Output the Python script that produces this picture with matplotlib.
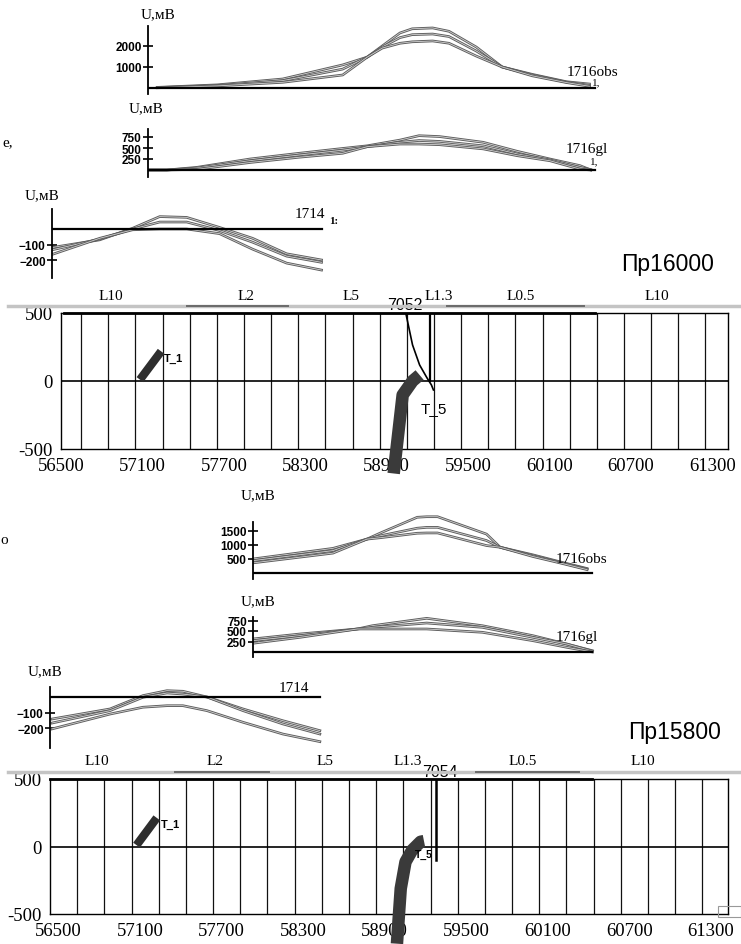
import matplotlib
matplotlib.use('Agg')
import matplotlib.pyplot as plt
import matplotlib.patheffects as pe
from matplotlib.lines import Line2D
from matplotlib.patches import Rectangle
import numpy as np

plt.rcParams['font.family'] = ['Liberation Serif', 'DejaVu Serif']
SANS = ['Liberation Sans', 'DejaVu Sans']

W, H = 741, 945

# ---------------- данные: x - пикет, м ; U - мВ ----------------
# Пр16000, 1716obs
obs1_x = [57230, 57670, 58150, 58590, 58770, 58880, 59010, 59100, 59250, 59370, 59570, 59760, 59980, 60230, 60400]
obs1_a = [30, 150, 430, 1100, 1470, 2000, 2620, 2820, 2860, 2700, 1950, 1000, 650, 300, 190]
obs1_b = [20, 120, 350, 900, 1470, 1950, 2400, 2540, 2570, 2450, 1760, 1000, 620, 280, 130]
obs1_c = [10, 100, 270, 620, 1470, 1900, 2130, 2200, 2240, 2130, 1520, 1000, 580, 260, 80]
# Пр16000, 1716gl
gl1_x = [57170, 57300, 57520, 57910, 58270, 58590, 58770, 59010, 59150, 59300, 59620, 59870, 60110, 60330, 60410]
gl1_a = [0, 0, 60, 250, 380, 490, 550, 680, 780, 760, 630, 425, 250, 100, 0]
gl1_b = [0, 0, 45, 210, 340, 450, 530, 630, 670, 650, 550, 365, 230, 60, 10]
gl1_c = [0, 0, 15, 170, 290, 380, 530, 590, 590, 575, 480, 325, 210, 20, 0]
# Пр16000, 1714
p1_x = [56456, 56808, 57050, 57248, 57446, 57687, 57929, 58179, 58435]
p1_a = [-120, -70, 5, 80, 75, 10, -60, -160, -200]
p1_b = [-135, -65, 0, 45, 45, -10, -85, -175, -215]
p1_c = [-165, -60, -5, 0, 0, -30, -130, -220, -265]

# Пр15800, 1716obs
obs2_x = [57930, 58520, 58770, 58870, 59140, 59210, 59290, 59650, 59750, 59990, 60190, 60390]
obs2_a = [500, 880, 1210, 1430, 1990, 2010, 2010, 1390, 920, 650, 400, 160]
obs2_b = [440, 800, 1210, 1330, 1600, 1630, 1630, 1160, 920, 620, 380, 140]
obs2_c = [360, 710, 1210, 1260, 1420, 1430, 1430, 980, 920, 590, 360, 120]
# Пр15800, 1716gl
gl2_x = [57930, 58280, 58700, 58810, 59210, 59620, 59990, 60240, 60430]
gl2_a = [310, 430, 548, 626, 802, 626, 390, 190, 30]
gl2_b = [270, 390, 548, 587, 690, 587, 350, 190, 20]
gl2_c = [207, 350, 548, 548, 548, 469, 270, 112, 0]
# Пр15800, 1714
p2_x = [56453, 56880, 57122, 57299, 57416, 57593, 57858, 58152, 58424]
p2_a = [-142, -77, 9, 41, 37, 0, -77, -153, -217]
p2_b = [-168, -88, -2, 26, 19, 0, -88, -174, -239]
p2_c = [-206, -110, -66, -56, -56, -88, -163, -239, -288]

# разрезы
x_ticks = [56500, 57100, 57700, 58300, 58900, 59500, 60100, 60700, 61300]
z_ticks = [-500, 0, 500]
layers = ['L10', 'L2', 'L5', 'L1.3', 'L0.5', 'L10']
layers1_x = [56865, 57862, 58641, 59282, 59890, 60895]
layers2_x = [56783, 57652, 58462, 59068, 59913, 60800]

t1_1x, t1_1z = [57082, 57238], [10, 218]
t5_1x = [58952, 59018, 59091, 59143]
t5_1z = [-680, -103, 0, 44]
thin1_x = [59041, 59091, 59143, 59198, 59230, 59245]
thin1_z = [500, 265, 118, 22, -29, -66]

t1_2x, t1_2z = [57075, 57224], [10, 212]
t5_2x = [58991, 59019, 59054, 59103, 59165, 59190]
t5_2z = [-720, -311, -114, -27, 35, 40]


def box(l, t, r, b):
    return [l / W, 1 - b / H, (r - l) / W, (b - t) / H]


def m1(px):
    return 56500 + (px - 57.7) * 7.334


def m2(px):
    return 56500 + (px - 58.4) * 7.358


fig = plt.figure(figsize=(W / 100, H / 100), dpi=100)


def ftext(px, py, s, **kw):
    fig.text(px / W, 1 - py / H, s, **kw)


def small_plot(l, t, r, b, zero_py, scale, mfun, x, curves, ticks, top_py, base_px):
    ax = fig.add_axes(box(l, t, r, b))
    ylim = (-(b - zero_py) / scale, (zero_py - t) / scale)
    xlim = (mfun(l), mfun(r))
    for y in curves:
        ax.plot(x, y, color='#d2d2d2', lw=0.6,
                path_effects=[pe.Stroke(linewidth=1.9, foreground='#5c5c5c'), pe.Normal()])
    ax.plot([xlim[0], mfun(base_px)], [0, 0], color='black', lw=1.6)
    ax.set_xlim(xlim)
    ax.set_ylim(ylim)
    for s in ['top', 'right', 'bottom']:
        ax.spines[s].set_visible(False)
    ax.spines['left'].set_bounds(ylim[0], (zero_py - top_py) / scale)
    ax.spines['left'].set_linewidth(1.3)
    ax.set_xticks([])
    ax.set_yticks(ticks)
    ax.tick_params(axis='y', direction='inout', length=7, width=1.2, pad=1, labelsize=8.5)
    for lb in ax.get_yticklabels():
        lb.set_fontfamily(SANS)
        lb.set_fontweight('bold')
    ax.patch.set_alpha(0)
    return ax


def section(l, t, r, b, xlim, vlines, thick_end, lay_x, lay_z, gray_py, dark):
    ax = fig.add_axes(box(l, t, r, b))
    ax.set_xlim(xlim)
    ax.set_ylim(-500, 500)
    for v in vlines:
        ax.axvline(v, color='#111111', lw=0.9)
    ax.axhline(0, color='black', lw=1.2)
    ax.plot([xlim[0], thick_end], [500, 500], color='black', lw=2.0, clip_on=False, zorder=4)
    for s in ax.spines.values():
        s.set_linewidth(1.0)
    ax.set_xticks(x_ticks)
    ax.set_xticklabels([str(v) for v in x_ticks])
    ax.set_yticks(z_ticks)
    ax.set_yticklabels([str(v) for v in z_ticks])
    ax.tick_params(length=0, labelsize=13.5, pad=6)
    ax.tick_params(axis='y', pad=6)
    for name, xx in zip(layers, lay_x):
        ax.text(xx, lay_z, name, ha='center', va='center', fontsize=11, clip_on=False)
    y = 1 - gray_py / H
    fig.add_artist(Line2D([8 / W, 1], [y, y], color='#c4c4c4', lw=2.5))
    for a, c in dark:
        fig.add_artist(Line2D([a / W, c / W], [y, y], color='#6a6a6a', lw=1.4))
    return ax


# ================= Пр16000 =================
small_plot(148, 27, 600, 95, 89, 0.021, m1, obs1_x, [obs1_a, obs1_b, obs1_c], [1000, 2000], 27, 595)
ftext(158, 15, 'U,мВ', fontsize=11, ha='center', va='center')
ftext(592, 72, '1716obs', fontsize=11, ha='center', va='center')
ftext(592, 83, '1,', fontsize=8, ha='left', va='center')

small_plot(148, 128, 600, 178, 171, 0.044, m1, gl1_x, [gl1_a, gl1_b, gl1_c], [250, 500, 750], 130, 595)
ftext(146, 109, 'U,мВ', fontsize=11, ha='center', va='center')
ftext(587, 150, '1716gl', fontsize=11, ha='center', va='center')
ftext(590, 162, '1,', fontsize=8, ha='left', va='center')

small_plot(52, 210, 330, 279, 230, 0.155, m1, p1_x, [p1_a, p1_b, p1_c], [-100, -200], 210, 322)
ftext(42, 196, 'U,мВ', fontsize=11, ha='center', va='center')
ftext(310, 215, '1714', fontsize=11, ha='center', va='center')
ftext(329, 221, '1:', fontsize=8, ha='left', va='center', fontweight='bold')

ftext(668, 265, 'Пр16000', fontsize=16.5, ha='center', va='center', family=SANS)

ax1 = section(61, 314, 728, 450, (m1(61), m1(728)), np.arange(56649, 61300, 200), m1(594),
              layers1_x, 625, 307, [(187, 288), (447, 584)])
ax1.plot(t1_1x, t1_1z, color='#2e2e2e', lw=6, solid_capstyle='butt', zorder=5)
ax1.text(57332, 169, 'T_1', fontsize=8, fontweight='bold', family=SANS, ha='center', va='center')
ax1.plot(thin1_x, thin1_z, color='black', lw=1.2, zorder=5)
ax1.plot([59223, 59223], [500, 0], color='black', lw=1.6, zorder=5)
ax1.plot(t5_1x, t5_1z, color='#3a3a3a', lw=9, solid_capstyle='butt', clip_on=False, zorder=6)
ax1.text(59250, -199, 'T_5', fontsize=11, family=SANS, ha='center', va='center')
ax1.text(59032, 566, '7052', fontsize=11.5, family=SANS, ha='center', va='center', clip_on=False)

# ================= Пр15800 =================
small_plot(253, 515, 600, 580, 574, 0.028, m2, obs2_x, [obs2_a, obs2_b, obs2_c], [500, 1000, 1500], 523, 592)
ftext(258, 496, 'U,мВ', fontsize=11, ha='center', va='center')
ftext(581, 560, '1716obs', fontsize=11, ha='center', va='center')

small_plot(253, 615, 600, 658, 653, 0.042, m2, gl2_x, [gl2_a, gl2_b, gl2_c], [250, 500, 750], 618, 592)
ftext(258, 602, 'U,мВ', fontsize=11, ha='center', va='center')
ftext(577, 638, '1716gl', fontsize=11, ha='center', va='center')

small_plot(50, 686, 330, 749, 698, 0.155, m2, p2_x, [p2_a, p2_b, p2_c], [-100, -200], 688, 320)
ftext(45, 672, 'U,мВ', fontsize=11, ha='center', va='center')
ftext(294, 688, '1714', fontsize=11, ha='center', va='center')

ftext(675, 733, 'Пр15800', fontsize=16.5, ha='center', va='center', family=SANS)

ax2 = section(50, 780, 728, 915, (m2(50), m2(728)), np.arange(56638, 61400, 200), m2(592),
              layers2_x, 637, 773, [(175, 269), (476, 579)])
ax2.plot(t1_2x, t1_2z, color='#2e2e2e', lw=6, solid_capstyle='butt', zorder=5)
ax2.text(57321, 170, 'T_1', fontsize=8, fontweight='bold', family=SANS, ha='center', va='center')
ax2.plot([59276, 59276], [500, -101], color='black', lw=1.8, zorder=5)
ax2.plot(t5_2x, t5_2z, color='#3a3a3a', lw=9, solid_capstyle='butt', clip_on=False, zorder=6)
ax2.text(59190, -52, 'T_5', fontsize=7.5, fontweight='bold', family=SANS, ha='center', va='center', zorder=7)
ax2.text(59311, 556, '7054', fontsize=11.5, family=SANS, ha='center', va='center', clip_on=False)

# обрывки соседнего текста по левому краю скана
ftext(2, 143, 'e,', fontsize=11, ha='left', va='center')
ftext(0, 541, 'o', fontsize=11, ha='left', va='center')
fig.add_artist(Rectangle((718 / W, 1 - 918 / H), 23 / W, 11 / H, fill=False, ec='#999999', lw=0.8))

fig.savefig('out.png', dpi=100)
